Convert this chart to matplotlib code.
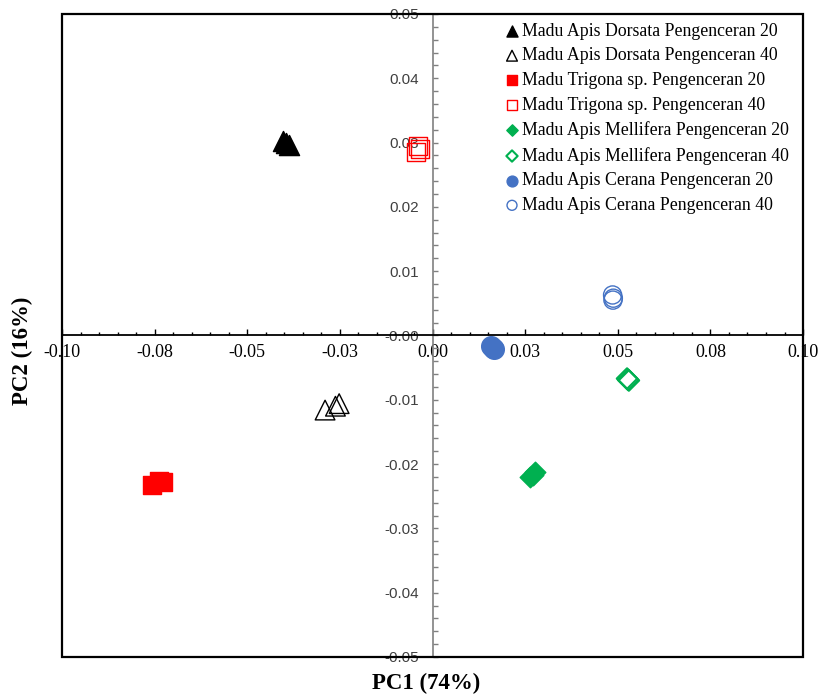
import matplotlib
matplotlib.use("Agg")
import matplotlib.pyplot as plt
from matplotlib.patches import Rectangle
from matplotlib.ticker import MultipleLocator, FixedLocator

SERIF = ["Liberation Serif", "DejaVu Serif"]
SANS = ["Liberation Sans", "DejaVu Sans"]

# PCA scores (replicates overlap)
series_names = [
    "Madu Apis Dorsata Pengenceran 20",
    "Madu Apis Dorsata Pengenceran 40",
    "Madu Trigona sp. Pengenceran 20",
    "Madu Trigona sp. Pengenceran 40",
    "Madu Apis Mellifera Pengenceran 20",
    "Madu Apis Mellifera Pengenceran 40",
    "Madu Apis Cerana Pengenceran 20",
    "Madu Apis Cerana Pengenceran 40",
]
dorsata20_x = [-0.0403, -0.0395, -0.0388]
dorsata20_y = [0.0302, 0.0300, 0.0297]
dorsata40_x = [-0.0290, -0.0262, -0.0252]
dorsata40_y = [-0.0116, -0.0110, -0.0106]
trigona20_x = [-0.0757, -0.0737, -0.0728]
trigona20_y = [-0.0233, -0.0226, -0.0228]
trigona40_x = [-0.0040, -0.0034, -0.0044]
trigona40_y = [0.0294, 0.0290, 0.0285]
mellifera20_x = [0.0262, 0.0270, 0.0276]
mellifera20_y = [-0.0220, -0.0217, -0.0213]
mellifera40_x = [0.0525, 0.0530, 0.0528]
mellifera40_y = [-0.0067, -0.0070, -0.0069]
cerana20_x = [0.0158, 0.0162, 0.0165]
cerana20_y = [-0.0017, -0.0020, -0.0021]
cerana40_x = [0.0486, 0.0488, 0.0487]
cerana40_y = [0.0063, 0.0058, 0.0055]

x_ticks = [-0.10, -0.075, -0.05, -0.025, 0.0, 0.025, 0.05, 0.075, 0.10]
x_tick_labels = ["-0.10", "-0.08", "-0.05", "-0.03", "0.00", "0.03", "0.05", "0.08", "0.10"]

RED = "#FF0000"
GREEN = "#00B050"
BLUE = "#4472C4"

styles = [
    dict(marker="^", s=210, facecolors="black", edgecolors="black", linewidths=1.0),
    dict(marker="^", s=200, facecolors="none", edgecolors="black", linewidths=1.0),
    dict(marker="s", s=170, facecolors=RED, edgecolors=RED, linewidths=1.0),
    dict(marker="s", s=170, facecolors="none", edgecolors=RED, linewidths=1.0),
    dict(marker="D", s=110, facecolors=GREEN, edgecolors=GREEN, linewidths=1.0),
    dict(marker="D", s=110, facecolors="none", edgecolors=GREEN, linewidths=1.5),
    dict(marker="o", s=200, facecolors=BLUE, edgecolors=BLUE, linewidths=1.0),
    dict(marker="o", s=170, facecolors="none", edgecolors=BLUE, linewidths=1.0),
]
data = [
    (dorsata20_x, dorsata20_y), (dorsata40_x, dorsata40_y),
    (trigona20_x, trigona20_y), (trigona40_x, trigona40_y),
    (mellifera20_x, mellifera20_y), (mellifera40_x, mellifera40_y),
    (cerana20_x, cerana20_y), (cerana40_x, cerana40_y),
]

fig = plt.figure(figsize=(8.18, 6.95), dpi=100)
ax = fig.add_axes([0.0758, 0.0547, 0.9059, 0.9252])

for (xs, ys), name, st in zip(data, series_names, styles):
    ax.scatter(xs, ys, label=name, zorder=3, **st)

ax.set_xlim(-0.10, 0.10)
ax.set_ylim(-0.05, 0.05)

# axes crossing at origin
ax.spines["left"].set_position(("data", 0))
ax.spines["bottom"].set_position(("data", 0))
ax.spines["top"].set_visible(False)
ax.spines["right"].set_visible(False)
ax.spines["left"].set_color("#808080")
ax.spines["left"].set_linewidth(1.2)
ax.spines["bottom"].set_color("black")
ax.spines["bottom"].set_linewidth(1.3)
ax.yaxis.set_ticks_position("left")
ax.xaxis.set_ticks_position("bottom")

# outer frame
ax.add_patch(Rectangle((0, 0), 1, 1, transform=ax.transAxes, fill=False,
                       edgecolor="black", linewidth=1.6, clip_on=False, zorder=5))

ax.xaxis.set_major_locator(FixedLocator(x_ticks))
ax.set_xticklabels(x_tick_labels, fontfamily=SERIF, fontsize=13, color="black")
ax.xaxis.set_minor_locator(MultipleLocator(0.005))
ax.yaxis.set_major_locator(MultipleLocator(0.01))
ax.yaxis.set_minor_locator(MultipleLocator(0.002))
ax.yaxis.set_major_formatter(plt.FuncFormatter(lambda v, p: f"{v:.2f}"))
for lbl in ax.get_yticklabels():
    lbl.set_fontfamily(SANS)
ax.tick_params(axis="y", which="both", labelsize=11, colors="#808080")
ax.tick_params(axis="y", labelcolor="#404040")
ax.tick_params(axis="x", which="major", direction="in", length=4.5, width=1.0, pad=6)
ax.tick_params(axis="x", which="minor", direction="in", length=2.5, width=1.0)
ax.tick_params(axis="y", which="major", direction="in", length=3.5, width=1.0, pad=10)
ax.tick_params(axis="y", which="minor", direction="in", length=3.5, width=1.0)

fig.text(0.521, 0.016, "PC1 (74%)", ha="center", va="center", fontfamily=SERIF,
         fontsize=16.5, fontweight="bold")
fig.text(0.027, 0.495, "PC2 (16%)", ha="center", va="center", rotation=90,
         fontfamily=SERIF, fontsize=16.5, fontweight="bold")

leg = ax.legend(loc="upper right", bbox_to_anchor=(0.995, 1.003), frameon=False,
                prop={"family": SERIF, "size": 12.8}, markerscale=0.55,
                handletextpad=0.05, handlelength=1.0, labelspacing=0.43,
                borderaxespad=0.2)

fig.savefig("out.png", dpi=100)
